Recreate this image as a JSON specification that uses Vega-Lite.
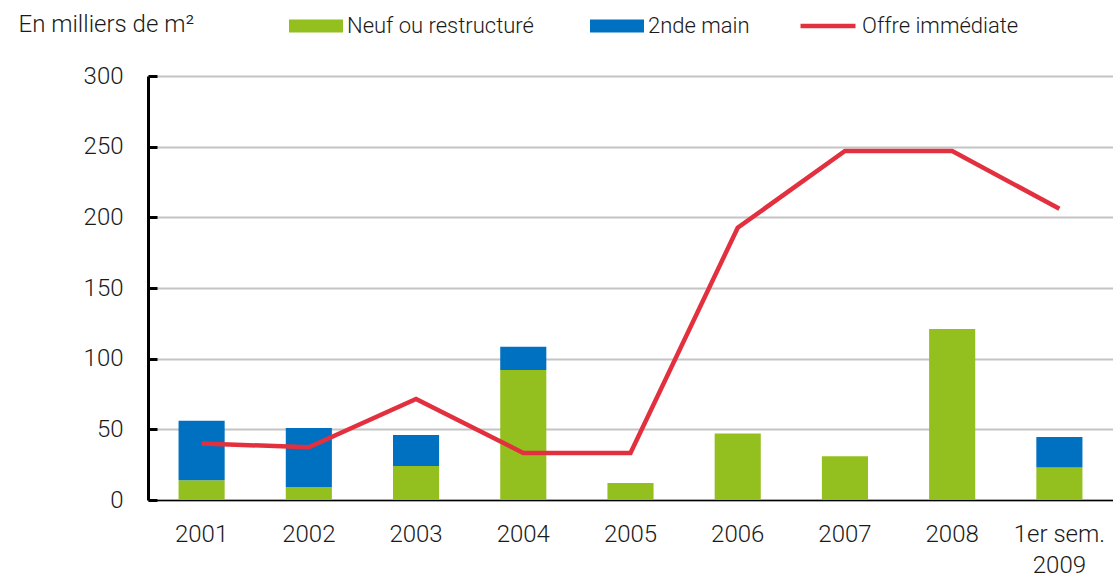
{
  "$schema": "https://vega.github.io/schema/vega-lite/v6.json",
  "width": 965,
  "height": 424,
  "autosize": {"type": "none"},
  "padding": {"left": 148, "top": 76, "right": 0, "bottom": 82},
  "background": "white",
  "config": {
    "font": "Roboto",
    "view": {"stroke": null},
    "axis": {"labelFont": "Roboto", "labelFontWeight": 300, "labelFontSize": 24, "labelColor": "#1a1a1a"},
    "legend": {"labelFont": "Roboto", "labelFontWeight": 300, "labelFontSize": 22, "labelColor": "#1a1a1a", "labelLimit": 0}
  },
  "datasets": {
    "bars": [
      {"annee": "2001", "type": "Neuf ou restructuré", "ordre": 1, "v": 14},
      {"annee": "2001", "type": "2nde main", "ordre": 2, "v": 42},
      {"annee": "2002", "type": "Neuf ou restructuré", "ordre": 1, "v": 9},
      {"annee": "2002", "type": "2nde main", "ordre": 2, "v": 42},
      {"annee": "2003", "type": "Neuf ou restructuré", "ordre": 1, "v": 24},
      {"annee": "2003", "type": "2nde main", "ordre": 2, "v": 22},
      {"annee": "2004", "type": "Neuf ou restructuré", "ordre": 1, "v": 92},
      {"annee": "2004", "type": "2nde main", "ordre": 2, "v": 16.5},
      {"annee": "2005", "type": "Neuf ou restructuré", "ordre": 1, "v": 12},
      {"annee": "2006", "type": "Neuf ou restructuré", "ordre": 1, "v": 47},
      {"annee": "2007", "type": "Neuf ou restructuré", "ordre": 1, "v": 31},
      {"annee": "2008", "type": "Neuf ou restructuré", "ordre": 1, "v": 121},
      {"annee": "1er sem. 2009", "type": "Neuf ou restructuré", "ordre": 1, "v": 23},
      {"annee": "1er sem. 2009", "type": "2nde main", "ordre": 2, "v": 21.5}
    ],
    "offre": [
      {"annee": "2001", "serie": "Offre immédiate", "v": 40},
      {"annee": "2002", "serie": "Offre immédiate", "v": 37.3},
      {"annee": "2003", "serie": "Offre immédiate", "v": 71.5},
      {"annee": "2004", "serie": "Offre immédiate", "v": 33.3},
      {"annee": "2005", "serie": "Offre immédiate", "v": 33.3},
      {"annee": "2006", "serie": "Offre immédiate", "v": 192.6},
      {"annee": "2007", "serie": "Offre immédiate", "v": 247},
      {"annee": "2008", "serie": "Offre immédiate", "v": 247},
      {"annee": "1er sem. 2009", "serie": "Offre immédiate", "v": 206}
    ]
  },
  "encoding": {
    "x": {
      "field": "annee",
      "type": "nominal",
      "sort": ["2001", "2002", "2003", "2004", "2005", "2006", "2007", "2008", "1er sem. 2009"],
      "scale": {"paddingInner": 0.57, "paddingOuter": 0.285},
      "axis": {
        "title": null,
        "labelAngle": 0,
        "ticks": false,
        "grid": false,
        "domainColor": "#000000",
        "domainWidth": 1.5,
        "labelPadding": 22,
        "labelBaseline": "top",
        "labelLineHeight": 31,
        "labelExpr": "datum.value == '1er sem. 2009' ? ['1er sem.', '2009'] : datum.value"
      }
    }
  },
  "layer": [
    {
      "data": {"name": "bars"},
      "mark": {"type": "bar"},
      "encoding": {
        "y": {
          "field": "v",
          "type": "quantitative",
          "stack": "zero",
          "scale": {"domain": [0, 300], "nice": false},
          "axis": {
            "values": [0, 50, 100, 150, 200, 250, 300],
            "title": "En milliers de m²",
            "titleAngle": 0,
            "titleAlign": "left",
            "titleBaseline": "middle",
            "titleX": -130,
            "titleY": -52,
            "titleFont": "Roboto",
            "titleFontWeight": 300,
            "titleFontSize": 24,
            "titleColor": "#1a1a1a",
            "grid": true,
            "gridColor": "#c4c4c4",
            "gridWidth": 2,
            "domainColor": "#000000",
            "domainWidth": 3,
            "tickColor": "#000000",
            "tickWidth": 3,
            "tickSize": -9,
            "labelPadding": 34
          }
        },
        "order": {"field": "ordre", "type": "quantitative"},
        "fill": {
          "field": "type",
          "type": "nominal",
          "scale": {"domain": ["Neuf ou restructuré", "2nde main"], "range": ["#93c01f", "#0070c0"]},
          "legend": {
            "title": null,
            "orient": "none",
            "direction": "horizontal",
            "legendX": 141,
            "legendY": -77,
            "symbolType": "M-1,-0.24H1V0.24H-1Z",
            "symbolSize": 2916,
            "symbolStrokeWidth": 0,
            "symbolOpacity": 1,
            "labelOffset": 4,
            "columnPadding": 56
          }
        }
      }
    },
    {
      "data": {"name": "offre"},
      "mark": {"type": "line", "strokeWidth": 4.5},
      "encoding": {
        "y": {"field": "v", "type": "quantitative"},
        "stroke": {
          "field": "serie",
          "type": "nominal",
          "scale": {"domain": ["Offre immédiate"], "range": ["#e3303f"]},
          "legend": {
            "title": null,
            "orient": "none",
            "legendX": 650,
            "legendY": -80,
            "symbolType": "stroke",
            "symbolSize": 3025,
            "symbolStrokeWidth": 4.5,
            "labelOffset": 4
          }
        }
      }
    }
  ]
}
